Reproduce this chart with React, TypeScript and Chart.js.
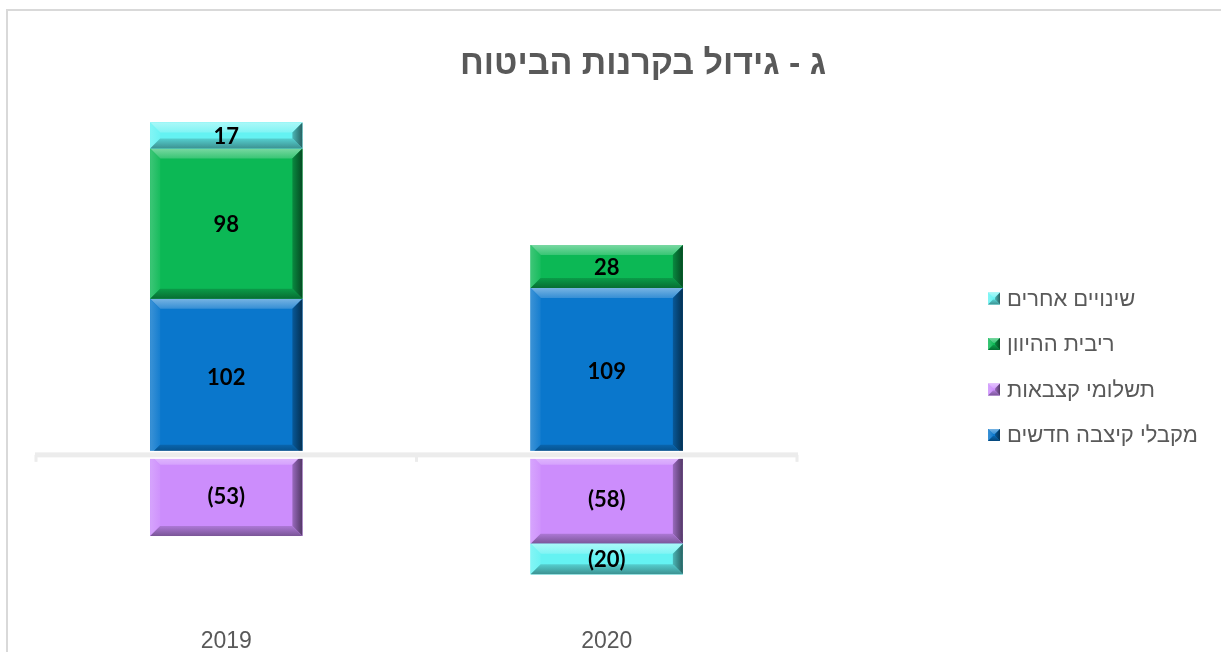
import React, { useEffect, useRef } from "react";
import { Chart, registerables } from "chart.js";

Chart.register(...registerables);

const categories = ["2019", "2020"];
const seriesNames = ["מקבלי קיצבה חדשים", "תשלומי קצבאות", "ריבית ההיוון", "שינויים אחרים"];
const newRecipients = [102, 109];
const pensionPayments = [-53, -58];
const discountInterest = [98, 28];
const otherChanges = [17, -20];
const seriesColors = ["#0a77cc", "#cc8dfc", "#0cb855", "#64f2f2"];
const chartTitle = "ג - גידול בקרנות הביטוח";
const yMin = -100;
const yMax = 250;

const TEXT_GRAY = "#595959";
const SANS = "'Liberation Sans', Arial, 'DejaVu Sans', sans-serif";

function hexToRgb(hex: string) {
  const h = hex.replace("#", "");
  return [parseInt(h.slice(0, 2), 16), parseInt(h.slice(2, 4), 16), parseInt(h.slice(4, 6), 16)];
}
function shade(hex: string, amt: number) {
  const [r, g, b] = hexToRgb(hex);
  const t = amt > 0 ? 255 : 0;
  const a = Math.abs(amt);
  const m = (c: number) => Math.round(c + (t - c) * a);
  return `rgb(${m(r)},${m(g)},${m(b)})`;
}

function drawBevel(ctx: CanvasRenderingContext2D, x0: number, y0: number, x1: number, y1: number, color: string, bMax: number) {
  const w = x1 - x0;
  const h = y1 - y0;
  const b = Math.min(bMax, h / 2.4, w / 2.4);
  ctx.save();
  ctx.fillStyle = color;
  ctx.fillRect(x0, y0, w, h);
  // top
  let g = ctx.createLinearGradient(0, y0, 0, y0 + b);
  g.addColorStop(0, shade(color, 0.45));
  g.addColorStop(1, shade(color, 0.18));
  ctx.fillStyle = g;
  ctx.beginPath();
  ctx.moveTo(x0, y0); ctx.lineTo(x1, y0); ctx.lineTo(x1 - b, y0 + b); ctx.lineTo(x0 + b, y0 + b); ctx.closePath();
  ctx.fill();
  // left
  g = ctx.createLinearGradient(x0, 0, x0 + b, 0);
  g.addColorStop(0, shade(color, 0.2));
  g.addColorStop(1, shade(color, 0.05));
  ctx.fillStyle = g;
  ctx.beginPath();
  ctx.moveTo(x0, y0); ctx.lineTo(x0 + b, y0 + b); ctx.lineTo(x0 + b, y1 - b); ctx.lineTo(x0, y1); ctx.closePath();
  ctx.fill();
  // right
  g = ctx.createLinearGradient(x1 - b, 0, x1, 0);
  g.addColorStop(0, shade(color, -0.25));
  g.addColorStop(1, shade(color, -0.6));
  ctx.fillStyle = g;
  ctx.beginPath();
  ctx.moveTo(x1, y0); ctx.lineTo(x1, y1); ctx.lineTo(x1 - b, y1 - b); ctx.lineTo(x1 - b, y0 + b); ctx.closePath();
  ctx.fill();
  // bottom
  g = ctx.createLinearGradient(0, y1 - b, 0, y1);
  g.addColorStop(0, shade(color, -0.15));
  g.addColorStop(1, shade(color, -0.4));
  ctx.fillStyle = g;
  ctx.beginPath();
  ctx.moveTo(x0, y1); ctx.lineTo(x1, y1); ctx.lineTo(x1 - b, y1 - b); ctx.lineTo(x0 + b, y1 - b); ctx.closePath();
  ctx.fill();
  ctx.restore();
}

const decorPlugin = {
  id: "decor",
  afterDatasetsDraw(chart: any) {
    const ctx: CanvasRenderingContext2D = chart.ctx;
    const area = chart.chartArea;
    // bevelled bars
    chart.data.datasets.forEach((ds: any, di: number) => {
      const meta = chart.getDatasetMeta(di);
      meta.data.forEach((el: any) => {
        const left = el.x - el.width / 2;
        const right = el.x + el.width / 2;
        const top = Math.min(el.y, el.base);
        const bottom = Math.max(el.y, el.base);
        drawBevel(ctx, left, top, right, bottom, ds.backgroundColor, 10);
      });
    });
    // zero axis line
    const yScale = chart.scales.y;
    const y0 = yScale.getPixelForValue(0);
    ctx.save();
    ctx.fillStyle = "#ffffff";
    ctx.fillRect(area.left - 1, y0 - 4, area.right - area.left + 2, 8);
    ctx.fillStyle = "#ececec";
    ctx.fillRect(area.left - 1, y0 - 2.5, area.right - area.left + 2, 5);
    const n = categories.length;
    const step = (area.right - area.left) / n;
    for (let i = 0; i <= n; i++) {
      const tx = area.left + step * i;
      ctx.fillRect(tx - 1.5, y0, 3, 7);
    }
    ctx.restore();
    // data labels
    ctx.save();
    ctx.font = "bold 22px Lato, 'Open Sans', sans-serif";
    ctx.fillStyle = "#000000";
    ctx.textAlign = "center";
    ctx.textBaseline = "middle";
    chart.data.datasets.forEach((ds: any, di: number) => {
      const meta = chart.getDatasetMeta(di);
      meta.data.forEach((el: any, i: number) => {
        const v = ds.data[i] as number;
        const txt = v < 0 ? `(${Math.abs(v)})` : `${v}`;
        ctx.fillText(txt, el.x, (el.y + el.base) / 2 + 1);
      });
    });
    ctx.restore();
  },
  afterDraw(chart: any) {
    const ctx: CanvasRenderingContext2D = chart.ctx;
    ctx.save();
    // title
    ctx.font = `bold 34px ${SANS}`;
    ctx.fillStyle = TEXT_GRAY;
    ctx.textAlign = "center";
    ctx.textBaseline = "middle";
    ctx.fillText(chartTitle, 643, 65);
    // legend (reverse order)
    ctx.font = `22px ${SANS}`;
    ctx.textAlign = "left";
    const rows = chart.data.datasets.map((ds: any) => ds).reverse();
    rows.forEach((ds: any, i: number) => {
      const cy = 298.5 + i * 45.5;
      drawBevel(ctx, 988, cy - 6, 1000, cy + 6, ds.backgroundColor, 6);
      ctx.fillStyle = TEXT_GRAY;
      ctx.fillText(ds.label, 1007, cy + 1);
    });
    ctx.restore();
  },
};

export default function App() {
  const ref = useRef<HTMLCanvasElement | null>(null);
  useEffect(() => {
    if (!ref.current) return;
    const seriesValues = [newRecipients, pensionPayments, discountInterest, otherChanges];
    const chart = new Chart(ref.current, {
      type: "bar",
      data: {
        labels: categories,
        datasets: seriesNames.map((name, i) => ({
          label: name,
          data: seriesValues[i],
          backgroundColor: seriesColors[i],
          borderWidth: 0,
          categoryPercentage: 1,
          barPercentage: 0.4,
        })),
      },
      options: {
        animation: false,
        responsive: false,
        devicePixelRatio: 1,
        layout: { padding: { left: 36, right: 424, top: 72, bottom: 0 } },
        plugins: {
          legend: { display: false },
          title: { display: false },
          tooltip: { enabled: false },
        },
        scales: {
          x: {
            stacked: true,
            grid: { display: false },
            border: { display: false },
            ticks: {
              color: TEXT_GRAY,
              font: { size: 23, family: SANS },
              padding: 12,
            },
            afterFit: (scale: any) => {
              scale.height = 44;
            },
          },
          y: {
            stacked: true,
            display: false,
            min: yMin,
            max: yMax,
          },
        },
      },
      plugins: [decorPlugin],
    });
    return () => chart.destroy();
  }, []);

  return (
    <div style={{ position: "fixed", left: 0, top: 0, width: 1221, height: 652, overflow: "hidden", background: "#fff" }}>
      <div
        style={{
          position: "absolute",
          left: 6,
          top: 9,
          width: 1300,
          height: 700,
          border: "2px solid #d9d9d9",
          boxSizing: "border-box",
        }}
      />
      <canvas ref={ref} width={1221} height={652} style={{ position: "absolute", left: 0, top: 0, width: 1221, height: 652 }} />
    </div>
  );
}
